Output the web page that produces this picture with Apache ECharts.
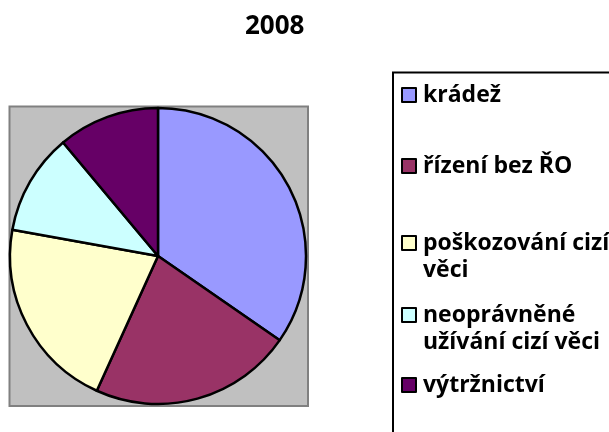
<!DOCTYPE html>
<html><head><meta charset="utf-8">
<script src="https://cdn.jsdelivr.net/npm/echarts@6/dist/echarts.min.js"></script>
<style>html,body{margin:0;padding:0;background:#fff}#c{width:609px;height:432px}</style>
</head><body><div id="c"></div>
<script>
const title = '2008';
const categories = ['krádež', 'řízení bez ŘO', 'poškozování cizí věci', 'neoprávněné užívání cizí věci', 'výtržnictví'];
const legendLabels = ['krádež', 'řízení bez ŘO', 'poškozování cizí\nvěci', 'neoprávněné\nužívání cizí věci', 'výtržnictví'];
const values = [125, 80, 76, 40, 40];
const colors = ['#9999FF', '#993366', '#FFFFCC', '#CCFFFF', '#660066'];

const FONT = '"Open Sans"';
const LH = 27;
const legendCenters = [95, 166, 243, 315, 385];

const legends = categories.map((name, i) => {
  const lbl = legendLabels[i];
  const multi = lbl.indexOf('\n') >= 0;
  return {
    data: [name],
    orient: 'vertical',
    left: 401,
    top: multi ? legendCenters[i] - 1.5 * LH : legendCenters[i] - LH / 2,
    padding: 0,
    icon: 'rect',
    itemWidth: 14,
    itemHeight: 14,
    itemStyle: { borderColor: '#000', borderWidth: 2 },
    selectedMode: false,
    formatter: () => multi ? ' \n' + lbl : lbl,
    textStyle: { fontFamily: FONT, fontWeight: 'bold', fontSize: 23, color: '#000', lineHeight: LH, padding: [0, 0, 0, 2] }
  };
});

const chart = echarts.init(document.getElementById('c'));
chart.setOption({
  animation: false,
  title: { text: title, left: 245, top: 14, padding: 0,
    textStyle: { fontFamily: FONT, fontWeight: 'bold', fontSize: 26, color: '#000' } },
  graphic: [
    { type: 'rect', shape: { x: 9.5, y: 106.5, width: 298.5, height: 299.5 },
      style: { fill: '#C0C0C0', stroke: '#808080', lineWidth: 2 }, z: -10 },
    { type: 'rect', shape: { x: 393, y: 72.5, width: 300, height: 400 },
      style: { fill: 'none', stroke: '#000', lineWidth: 2 }, z: -10 }
  ],
  legend: legends,
  series: [{
    type: 'pie',
    center: [158, 256],
    radius: [0, 148],
    startAngle: 90,
    clockwise: true,
    label: { show: false },
    labelLine: { show: false },
    emphasis: { disabled: true },
    itemStyle: { borderColor: '#000', borderWidth: 2.5 },
    data: categories.map((n, i) => ({ name: n, value: values[i], itemStyle: { color: colors[i] } }))
  }]
});
</script></body></html>
